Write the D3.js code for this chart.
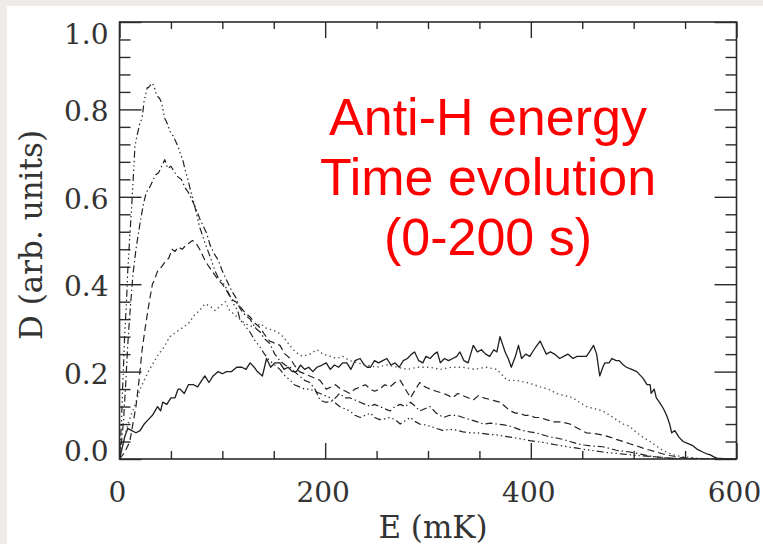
<!DOCTYPE html>
<html>
<head>
<meta charset="utf-8">
<script src="https://cdn.jsdelivr.net/npm/d3@7"></script>
<style>
  body { margin: 0; background: #eeebe8; }
  svg { display: block; }
</style>
</head>
<body>
<svg id="chart" width="763" height="544"></svg>
<script>
// energy distributions, [E (mK), D]
var curveSolid = [[0,0.0],[2,0.02],[5,0.05],[8,0.07],[12,0.065],[16,0.06],[20,0.065],[24,0.08],[28,0.09],[32,0.10],[37,0.12],[40,0.11],[42,0.13],[46,0.125],[50,0.14],[54,0.14],[57,0.16],[59,0.16],[63,0.15],[67,0.17],[72,0.17],[76,0.165],[80,0.18],[83,0.19],[87,0.175],[91,0.19],[96,0.20],[100,0.195],[104,0.20],[109,0.20],[114,0.21],[119,0.21],[123,0.205],[127,0.22],[131,0.21],[134,0.20],[139,0.19],[143,0.23],[147,0.21],[151,0.22],[156,0.22],[160,0.205],[164,0.21],[168,0.20],[172,0.20],[176,0.215],[180,0.205],[184,0.21],[188,0.20],[192,0.21],[197,0.215],[201,0.22],[205,0.205],[209,0.215],[213,0.21],[217,0.22],[221,0.22],[225,0.205],[229,0.225],[234,0.23],[238,0.215],[241,0.21],[244,0.21],[248,0.225],[252,0.22],[256,0.225],[260,0.23],[264,0.215],[268,0.22],[272,0.21],[276,0.225],[280,0.23],[284,0.24],[287,0.245],[291,0.225],[295,0.22],[298,0.235],[302,0.23],[306,0.24],[309,0.245],[312,0.22],[316,0.23],[320,0.225],[324,0.23],[328,0.235],[331,0.245],[335,0.225],[339,0.22],[344,0.26],[348,0.245],[352,0.25],[356,0.24],[360,0.235],[364,0.25],[367,0.245],[370,0.28],[375,0.245],[378,0.23],[381,0.21],[385,0.235],[388,0.26],[391,0.23],[395,0.24],[399,0.235],[403,0.25],[406,0.26],[409,0.27],[412,0.255],[415,0.24],[419,0.245],[423,0.24],[428,0.23],[432,0.235],[436,0.24],[441,0.23],[445,0.235],[449,0.235],[454,0.235],[457,0.245],[461,0.26],[464,0.24],[467,0.19],[470,0.21],[472,0.22],[476,0.22],[479,0.23],[483,0.225],[486,0.225],[490,0.215],[493,0.21],[498,0.205],[503,0.20],[509,0.185],[513,0.17],[516,0.17],[517,0.15],[520,0.16],[522,0.14],[525,0.13],[529,0.115],[532,0.10],[535,0.08],[537,0.06],[540,0.065],[544,0.05],[548,0.04],[553,0.035],[558,0.03],[562,0.022],[567,0.016],[571,0.012],[574,0.01],[578,0.005],[581,0.002],[590,0],[600,0]];

var curveDotted = [[0,0.0],[3,0.03],[6,0.06],[9,0.085],[12,0.105],[16,0.13],[20,0.16],[24,0.18],[28,0.20],[33,0.22],[38,0.24],[43,0.255],[49,0.28],[55,0.29],[61,0.30],[67,0.31],[73,0.33],[78,0.34],[83,0.355],[88,0.35],[93,0.34],[98,0.35],[103,0.36],[107,0.34],[112,0.33],[117,0.32],[122,0.31],[127,0.305],[132,0.30],[137,0.31],[142,0.30],[149,0.295],[154,0.29],[159,0.28],[164,0.265],[169,0.25],[174,0.24],[178,0.235],[185,0.24],[192,0.25],[198,0.24],[205,0.235],[211,0.23],[217,0.235],[224,0.225],[232,0.22],[240,0.215],[250,0.21],[260,0.215],[270,0.21],[280,0.205],[290,0.21],[302,0.21],[312,0.205],[323,0.21],[334,0.21],[345,0.205],[356,0.21],[367,0.205],[377,0.18],[386,0.18],[396,0.175],[403,0.17],[409,0.165],[417,0.16],[425,0.15],[433,0.145],[441,0.14],[447,0.13],[454,0.12],[462,0.115],[470,0.11],[477,0.10],[483,0.09],[490,0.08],[496,0.075],[503,0.06],[509,0.05],[516,0.04],[522,0.03],[528,0.02],[535,0.013],[541,0.008],[548,0.005],[560,0.002],[575,0],[600,0]];

var curveDashed = [[0,0],[5,0.015],[10,0.04],[13,0.08],[16,0.12],[19,0.18],[22,0.25],[25,0.30],[29,0.36],[32,0.40],[34,0.41],[37,0.43],[41,0.44],[44,0.45],[48,0.46],[51,0.48],[54,0.475],[57,0.485],[61,0.48],[65,0.49],[68,0.495],[71,0.50],[74,0.495],[78,0.48],[83,0.455],[87,0.44],[90,0.43],[96,0.41],[100,0.40],[103,0.39],[109,0.365],[113,0.36],[117,0.35],[122,0.335],[127,0.325],[132,0.31],[137,0.30],[141,0.285],[146,0.27],[151,0.265],[156,0.26],[161,0.24],[166,0.23],[170,0.215],[175,0.20],[180,0.195],[185,0.19],[190,0.185],[195,0.18],[198,0.17],[201,0.16],[206,0.165],[210,0.17],[215,0.16],[220,0.155],[224,0.15],[229,0.16],[234,0.165],[239,0.17],[244,0.16],[248,0.155],[253,0.16],[258,0.17],[263,0.165],[268,0.175],[273,0.18],[278,0.16],[283,0.14],[288,0.16],[292,0.175],[297,0.165],[302,0.16],[308,0.155],[315,0.15],[320,0.145],[324,0.14],[329,0.15],[334,0.145],[339,0.14],[344,0.135],[349,0.145],[354,0.14],[362,0.135],[370,0.13],[375,0.12],[380,0.11],[385,0.105],[389,0.105],[394,0.10],[399,0.10],[404,0.095],[409,0.095],[415,0.09],[422,0.085],[430,0.085],[438,0.08],[446,0.07],[454,0.06],[462,0.058],[470,0.055],[477,0.05],[483,0.045],[490,0.04],[496,0.035],[503,0.03],[509,0.025],[516,0.02],[522,0.016],[528,0.012],[535,0.008],[545,0.004],[560,0.001],[575,0],[600,0]];

var curveDashDot = [[0,0],[2,0.04],[4,0.09],[6,0.17],[8,0.26],[10,0.33],[13,0.42],[16,0.48],[20,0.54],[23,0.58],[26,0.61],[29,0.62],[32,0.635],[35,0.65],[38,0.655],[41,0.67],[44,0.685],[47,0.665],[50,0.67],[54,0.655],[57,0.645],[60,0.64],[64,0.62],[67,0.61],[70,0.595],[74,0.575],[78,0.55],[81,0.535],[85,0.515],[88,0.49],[92,0.47],[96,0.455],[100,0.43],[103,0.415],[106,0.40],[109,0.385],[113,0.37],[117,0.345],[122,0.33],[127,0.32],[132,0.30],[137,0.29],[141,0.275],[146,0.265],[151,0.24],[156,0.225],[161,0.215],[166,0.21],[170,0.20],[175,0.19],[180,0.18],[185,0.175],[190,0.16],[195,0.135],[200,0.13],[205,0.13],[210,0.14],[214,0.15],[219,0.14],[224,0.14],[229,0.135],[234,0.13],[239,0.125],[244,0.12],[248,0.125],[253,0.12],[258,0.115],[263,0.11],[268,0.12],[273,0.125],[278,0.12],[283,0.13],[288,0.12],[292,0.11],[297,0.115],[302,0.12],[308,0.105],[315,0.095],[321,0.10],[328,0.10],[334,0.095],[341,0.09],[348,0.085],[354,0.08],[361,0.082],[367,0.08],[374,0.078],[380,0.075],[386,0.07],[392,0.065],[399,0.062],[405,0.06],[412,0.055],[419,0.05],[425,0.048],[431,0.045],[438,0.04],[445,0.035],[452,0.032],[458,0.03],[464,0.029],[470,0.028],[477,0.024],[483,0.02],[490,0.018],[496,0.016],[503,0.013],[509,0.01],[515,0.007],[522,0.005],[535,0.002],[550,0],[600,0]];

var curveDash3Dot = [[0,0],[1,0.04],[2,0.09],[3,0.16],[5,0.28],[7,0.37],[8,0.43],[10,0.51],[12,0.585],[14,0.67],[15,0.715],[17,0.74],[18,0.75],[20,0.77],[22,0.78],[24,0.82],[25,0.83],[27,0.85],[28,0.85],[30,0.855],[32,0.86],[34,0.85],[35,0.84],[37,0.83],[39,0.825],[41,0.815],[43,0.79],[44,0.78],[47,0.765],[49,0.75],[52,0.74],[54,0.73],[57,0.715],[59,0.70],[62,0.68],[64,0.66],[67,0.635],[69,0.615],[72,0.59],[74,0.57],[76,0.55],[78,0.53],[81,0.51],[83,0.495],[87,0.47],[90,0.45],[93,0.43],[96,0.415],[100,0.405],[103,0.395],[106,0.38],[109,0.365],[112,0.35],[115,0.34],[117,0.32],[122,0.305],[127,0.29],[132,0.27],[137,0.255],[141,0.24],[146,0.225],[151,0.215],[156,0.205],[161,0.19],[166,0.18],[170,0.17],[175,0.165],[180,0.16],[185,0.16],[190,0.155],[195,0.15],[200,0.145],[205,0.14],[209,0.13],[214,0.12],[219,0.115],[224,0.11],[229,0.10],[234,0.095],[239,0.10],[244,0.105],[248,0.095],[253,0.09],[258,0.092],[263,0.095],[268,0.09],[273,0.08],[278,0.088],[283,0.095],[288,0.085],[292,0.08],[297,0.078],[302,0.075],[308,0.07],[315,0.065],[321,0.068],[328,0.066],[334,0.062],[341,0.06],[348,0.06],[354,0.058],[361,0.056],[367,0.055],[374,0.052],[380,0.05],[386,0.048],[392,0.045],[399,0.042],[405,0.04],[412,0.038],[419,0.035],[425,0.032],[431,0.03],[438,0.027],[445,0.025],[452,0.022],[458,0.02],[464,0.018],[470,0.016],[477,0.014],[483,0.013],[490,0.011],[496,0.01],[503,0.008],[509,0.007],[516,0.006],[522,0.005],[535,0.002],[550,0],[600,0]];

var xTickLabels = [0, 200, 400, 600];
var yTickLabels = ["0.0", "0.2", "0.4", "0.6", "0.8", "1.0"];
var annotationLines = ["Anti-H energy", "Time evolution", "(0-200 s)"];

var W = 763, H = 544;
// plot box (window.top is reserved, so prefix these)
var plotL = 119.5, plotR = 736.5, plotT = 22, plotB = 459;
var ink = "#2b2b2b";
var serif = "'DejaVu Serif', serif";

var svg = d3.select("#chart");

// light panel on the grey page
svg.append("rect").attr("x", 0).attr("y", 0).attr("width", W).attr("height", H).attr("fill", "#eeebe8");
svg.append("rect").attr("x", 7).attr("y", 6).attr("width", W - 7).attr("height", H - 6).attr("fill", "#ffffff");

var x = d3.scaleLinear().domain([0, 600]).range([plotL, plotR]);
var y = d3.scaleLinear().domain([0, 1]).range([plotB, plotT]);

// inward ticks on all four sides, major and minor
function tickAxis(axisFn, scale, values, size, tx, ty) {
    svg.append("g")
       .attr("transform", "translate(" + tx + "," + ty + ")")
       .call(axisFn(scale).tickValues(values).tickSize(size).tickFormat(""))
       .call(g => g.select(".domain").remove())
       .call(g => g.selectAll("line").attr("stroke", ink).attr("stroke-width", 1.4));
}
var xMajor = xTickLabels;
var xMinor = d3.range(0, 601, 50).filter(v => v % 200 != 0);
var yMajor = yTickLabels.map(Number);
var yMinor = d3.range(0, 26).map(i => i * 0.04).filter(v => Math.abs(v * 5 - Math.round(v * 5)) > 1e-6);

tickAxis(d3.axisBottom, x, xMajor, -16, 0, plotB);
tickAxis(d3.axisBottom, x, xMinor, -8, 0, plotB);
tickAxis(d3.axisTop, x, xMajor, -16, 0, plotT);
tickAxis(d3.axisTop, x, xMinor, -7, 0, plotT);
tickAxis(d3.axisLeft, y, yMajor, -22, plotL, 0);
tickAxis(d3.axisLeft, y, yMinor, -11, plotL, 0);
tickAxis(d3.axisRight, y, yMajor, -22, plotR, 0);
tickAxis(d3.axisRight, y, yMinor, -11, plotR, 0);

// curves
svg.append("clipPath").attr("id", "plot-clip")
   .append("rect").attr("x", plotL).attr("y", plotT).attr("width", plotR - plotL).attr("height", plotB - plotT);

var line = d3.line().x(d => x(d[0])).y(d => y(d[1]));
var curves = [
    {data: curveSolid, dash: null, color: "#1e1e1e", width: 1.3},
    {data: curveDotted, dash: "1.4,3.2", color: "#555", width: 1.4},
    {data: curveDashed, dash: "7,4", color: "#222", width: 1.2},
    {data: curveDashDot, dash: "7,3,1.4,3", color: "#222", width: 1.2},
    {data: curveDash3Dot, dash: "7,3,1.4,3,1.4,3,1.4,3", color: "#222", width: 1.2}
];
svg.append("g").attr("clip-path", "url(#plot-clip)")
   .selectAll("path")
   .data(curves)
   .enter()
   .append("path")
   .attr("d", d => line(d.data))
   .attr("fill", "none")
   .attr("stroke", d => d.color)
   .attr("stroke-width", d => d.width)
   .attr("stroke-linejoin", "round")
   .attr("stroke-dasharray", d => d.dash);

// frame
svg.append("rect")
   .attr("x", plotL).attr("y", plotT)
   .attr("width", plotR - plotL).attr("height", plotB - plotT)
   .attr("fill", "none").attr("stroke", ink).attr("stroke-width", 1.6);

// tick labels
svg.selectAll("text.xlab")
   .data(xTickLabels)
   .enter()
   .append("text")
   .attr("class", "xlab")
   .attr("x", d => x(d) - 2)
   .attr("y", 502)
   .attr("text-anchor", "middle")
   .attr("font-family", serif)
   .attr("font-size", 28)
   .attr("fill", "#333")
   .text(d => d);

svg.selectAll("text.ylab")
   .data(yTickLabels)
   .enter()
   .append("text")
   .attr("class", "ylab")
   .attr("x", plotL - 11)
   .attr("y", d => Math.min(Math.max(y(+d) + 2, 34), 450.5))
   .attr("dy", "0.36em")
   .attr("text-anchor", "end")
   .attr("font-family", serif)
   .attr("font-size", 28)
   .attr("fill", "#333")
   .text(d => d);

// axis titles
svg.append("text")
   .attr("x", 433).attr("y", 538)
   .attr("text-anchor", "middle")
   .attr("font-family", serif)
   .attr("font-size", 31)
   .attr("fill", "#333")
   .text("E (mK)");

svg.append("text")
   .attr("transform", "translate(42,235) rotate(-90)")
   .attr("text-anchor", "middle")
   .attr("font-family", serif)
   .attr("font-size", 31)
   .attr("fill", "#333")
   .text("D (arb. units)");

// red annotation
svg.selectAll("text.note")
   .data(annotationLines)
   .enter()
   .append("text")
   .attr("class", "note")
   .attr("x", 488)
   .attr("y", (d, i) => 135 + i * 60)
   .attr("text-anchor", "middle")
   .attr("font-family", "'Liberation Sans', Arial, sans-serif")
   .attr("font-size", 52)
   .attr("fill", "#ff0000")
   .text(d => d);
</script>
</body>
</html>
